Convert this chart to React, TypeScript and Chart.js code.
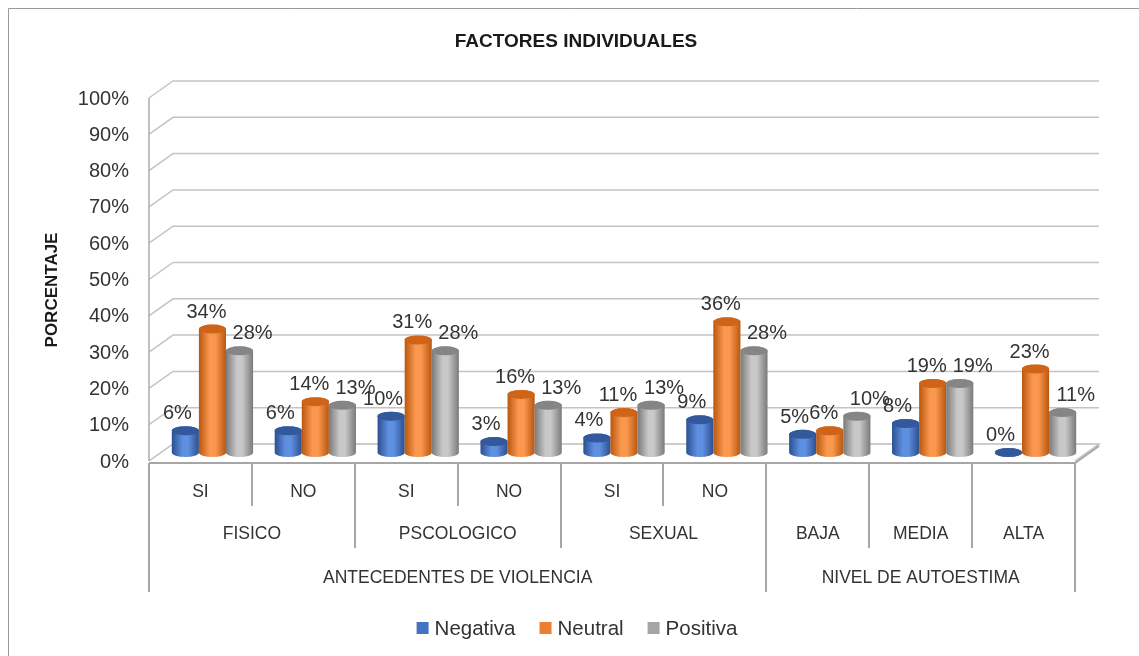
import React, { useEffect, useRef } from "react";
import { Chart, registerables } from "chart.js";

Chart.register(...registerables);

// ---------- data ----------
const categories = ["FISICO SI", "FISICO NO", "PSCOLOGICO SI", "PSCOLOGICO NO", "SEXUAL SI", "SEXUAL NO", "BAJA", "MEDIA", "ALTA"];
const level1Labels = ["SI", "NO", "SI", "NO", "SI", "NO", "", "", ""];
const level2Labels = ["FISICO", "PSCOLOGICO", "SEXUAL", "BAJA", "MEDIA", "ALTA"];
const level2Spans = [2, 2, 2, 1, 1, 1];
const level3Labels = ["ANTECEDENTES DE VIOLENCIA", "NIVEL DE AUTOESTIMA"];
const level3Spans = [6, 3];
const seriesNames = ["Negativa", "Neutral", "Positiva"];
const negativa = [6, 6, 10, 3, 4, 9, 5, 8, 0];
const neutral = [34, 14, 31, 16, 11, 36, 6, 19, 23];
const positiva = [28, 13, 28, 13, 13, 28, 10, 19, 11];
const yTicks = [0, 10, 20, 30, 40, 50, 60, 70, 80, 90, 100];
const titleText = "FACTORES INDIVIDUALES";
const yTitleText = "PORCENTAJE";

// ---------- styles ----------
const FONT = "'Liberation Sans', Arial, sans-serif";
const TEXT = "#333333";
const DX = 24;
const DY = -17;
const seriesColors = ["#4472C4", "#ED7D31", "#A5A5A5"];
const shades = [
  { edge: "#2c4f91", light: "#5f8fe0", top: "#34589c" },
  { edge: "#b9570f", light: "#fb9850", top: "#cf6318" },
  { edge: "#7a7a7a", light: "#c8c8c8", top: "#858585" },
];
const labelOffsetX = [-8, -6, 13];

function drawCylinder(ctx: CanvasRenderingContext2D, cx: number, top: number, bottom: number, w: number, s: any) {
  const rx = w / 2;
  const ry = 4.5;
  const g = ctx.createLinearGradient(cx - rx, 0, cx + rx, 0);
  g.addColorStop(0, s.edge);
  g.addColorStop(0.4, s.light);
  g.addColorStop(0.6, s.light);
  g.addColorStop(1, s.edge);
  ctx.save();
  ctx.fillStyle = g;
  ctx.beginPath();
  ctx.moveTo(cx - rx, top);
  ctx.lineTo(cx - rx, bottom);
  ctx.ellipse(cx, bottom, rx, ry, 0, Math.PI, 0, true);
  ctx.lineTo(cx + rx, top);
  ctx.ellipse(cx, top, rx, ry, 0, 0, Math.PI, true);
  ctx.closePath();
  ctx.fill();
  ctx.fillStyle = s.top;
  ctx.beginPath();
  ctx.ellipse(cx, top, rx, ry, 0, 0, Math.PI * 2);
  ctx.fill();
  ctx.restore();
}

const excel3d = {
  id: "excel3d",
  beforeDatasetsDraw(chart: any) {
    const ctx: CanvasRenderingContext2D = chart.ctx;
    const { left, right, bottom } = chart.chartArea;
    const y = chart.scales.y;
    ctx.save();
    ctx.strokeStyle = "#c4c4c4";
    ctx.lineWidth = 1.5;
    yTicks.forEach((v) => {
      if (v === 0) return;
      const py = y.getPixelForValue(v);
      ctx.beginPath();
      ctx.moveTo(left, py);
      ctx.lineTo(left + DX, py + DY);
      ctx.lineTo(right + DX, py + DY);
      ctx.stroke();
    });
    ctx.strokeStyle = "#ababab";
    ctx.beginPath();
    ctx.moveTo(left, y.getPixelForValue(100));
    ctx.lineTo(left, bottom);
    ctx.stroke();
    ctx.strokeStyle = "#bdbdbd";
    ctx.beginPath();
    ctx.moveTo(left, bottom);
    ctx.lineTo(left + DX, bottom + DY);
    ctx.lineTo(right + DX, bottom + DY);
    ctx.lineTo(right, bottom);
    ctx.stroke();
    ctx.strokeStyle = "#a6a6a6";
    ctx.lineWidth = 2;
    ctx.beginPath();
    ctx.moveTo(left, bottom + 2);
    ctx.lineTo(right, bottom + 2);
    ctx.lineTo(right + DX, bottom + DY + 2);
    ctx.stroke();
    ctx.restore();
  },
  beforeDatasetDraw() {
    return false;
  },
  afterDatasetsDraw(chart: any) {
    const ctx: CanvasRenderingContext2D = chart.ctx;
    const n = categories.length;
    for (let j = 0; j < n; j++) {
      chart.data.datasets.forEach((_d: any, i: number) => {
        const bar = chart.getDatasetMeta(i).data[j];
        const p = bar.getProps(["x", "y", "base", "width"], true);
        drawCylinder(ctx, p.x + DX / 2, p.y + DY / 2, p.base + DY / 2, p.width, shades[i]);
      });
    }
    ctx.save();
    ctx.font = `20px ${FONT}`;
    ctx.fillStyle = TEXT;
    ctx.textAlign = "center";
    ctx.textBaseline = "middle";
    chart.data.datasets.forEach((d: any, i: number) => {
      chart.getDatasetMeta(i).data.forEach((bar: any, j: number) => {
        const p = bar.getProps(["x", "y"], true);
        ctx.fillText(`${d.data[j]}%`, p.x + DX / 2 + labelOffsetX[i], p.y + DY / 2 - 17);
      });
    });
    ctx.restore();
  },
  afterDraw(chart: any) {
    const ctx: CanvasRenderingContext2D = chart.ctx;
    const { left, right, bottom } = chart.chartArea;
    const x = chart.scales.x;
    const y = chart.scales.y;
    const n = categories.length;
    const catW = (right - left) / n;
    const cx = (i: number) => x.getPixelForValue(i);
    const bx = (i: number) => (i < n ? cx(i) - catW / 2 : cx(n - 1) + catW / 2);
    ctx.save();
    // outer border
    ctx.strokeStyle = "#9a9a9a";
    ctx.lineWidth = 1;
    ctx.beginPath();
    ctx.moveTo(8.5, 656);
    ctx.lineTo(8.5, 8.5);
    ctx.lineTo(1139, 8.5);
    ctx.stroke();

    // title
    ctx.fillStyle = "#1a1a1a";
    ctx.font = `bold 19px ${FONT}`;
    ctx.textAlign = "center";
    ctx.textBaseline = "middle";
    ctx.fillText(titleText, 576, 42);

    // y title
    ctx.save();
    ctx.translate(52, 290);
    ctx.rotate(-Math.PI / 2);
    ctx.font = `bold 17px ${FONT}`;
    ctx.fillText(yTitleText, 0, 0);
    ctx.restore();

    // y tick labels
    ctx.fillStyle = TEXT;
    ctx.font = `20px ${FONT}`;
    ctx.textAlign = "right";
    yTicks.forEach((v) => {
      ctx.fillText(`${v}%`, left - 20, y.getPixelForValue(v) + 1);
    });

    // category axis (multi-level)
    const rowY = [bottom + 31, bottom + 73, bottom + 117];
    const depthY = [bottom + 45, bottom + 87, bottom + 131];
    const l2Bounds = new Set<number>();
    const l3Bounds = new Set<number>();
    let acc = 0;
    level2Spans.forEach((s) => { l2Bounds.add(acc); acc += s; l2Bounds.add(acc); });
    acc = 0;
    level3Spans.forEach((s) => { l3Bounds.add(acc); acc += s; l3Bounds.add(acc); });
    ctx.strokeStyle = "#a6a6a6";
    ctx.lineWidth = 2;
    for (let i = 0; i <= n; i++) {
      const depth = l3Bounds.has(i) ? 2 : l2Bounds.has(i) ? 1 : 0;
      const px = Math.round(bx(i));
      ctx.beginPath();
      ctx.moveTo(px, bottom + 2);
      ctx.lineTo(px, depthY[depth]);
      ctx.stroke();
    }
    ctx.fillStyle = TEXT;
    ctx.font = `17.5px ${FONT}`;
    ctx.textAlign = "center";
    level1Labels.forEach((l, i) => {
      if (l) ctx.fillText(l, cx(i), rowY[0]);
    });
    acc = 0;
    level2Labels.forEach((l, k) => {
      const c = (bx(acc) + bx(acc + level2Spans[k])) / 2;
      ctx.fillText(l, c, rowY[1]);
      acc += level2Spans[k];
    });
    acc = 0;
    level3Labels.forEach((l, k) => {
      const c = (bx(acc) + bx(acc + level3Spans[k])) / 2;
      ctx.fillText(l, c, rowY[2]);
      acc += level3Spans[k];
    });

    // legend
    ctx.font = `20.5px ${FONT}`;
    ctx.textAlign = "left";
    const box = 12;
    const gapBox = 6;
    const gapItem = 24;
    const widths = chart.data.datasets.map((d: any) => box + gapBox + ctx.measureText(d.label).width);
    const total = widths.reduce((a: number, b: number) => a + b, 0) + gapItem * (widths.length - 1);
    let lx = 577 - total / 2;
    const ly = 628;
    chart.data.datasets.forEach((d: any, i: number) => {
      ctx.fillStyle = d.backgroundColor;
      ctx.fillRect(lx, ly - box / 2, box, box);
      ctx.fillStyle = TEXT;
      ctx.fillText(d.label, lx + box + gapBox, ly + 1);
      lx += widths[i] + gapItem;
    });
    ctx.restore();
  },
};

export default function App() {
  const ref = useRef<HTMLCanvasElement | null>(null);
  useEffect(() => {
    if (!ref.current) return;
    const values = [negativa, neutral, positiva];
    const chart = new Chart(ref.current, {
      type: "bar",
      data: {
        labels: categories,
        datasets: seriesNames.map((name, i) => ({
          label: name,
          data: values[i],
          backgroundColor: seriesColors[i],
          categoryPercentage: 0.79,
          barPercentage: 1.0,
        })),
      },
      options: {
        responsive: false,
        animation: false,
        events: [],
        layout: { padding: { left: 149, top: 98, right: 64, bottom: 195 } },
        scales: {
          x: { display: false },
          y: { display: false, min: 0, max: 100, ticks: { stepSize: 10 } },
        },
        plugins: {
          legend: { display: false },
          title: { display: false },
          tooltip: { enabled: false },
        },
      },
      plugins: [excel3d as any],
    });
    return () => chart.destroy();
  }, []);
  return (
    <div style={{ position: "fixed", left: 0, top: 0, width: 1139, height: 656, background: "#fff" }}>
      <canvas ref={ref} width={1139} height={656} />
    </div>
  );
}
